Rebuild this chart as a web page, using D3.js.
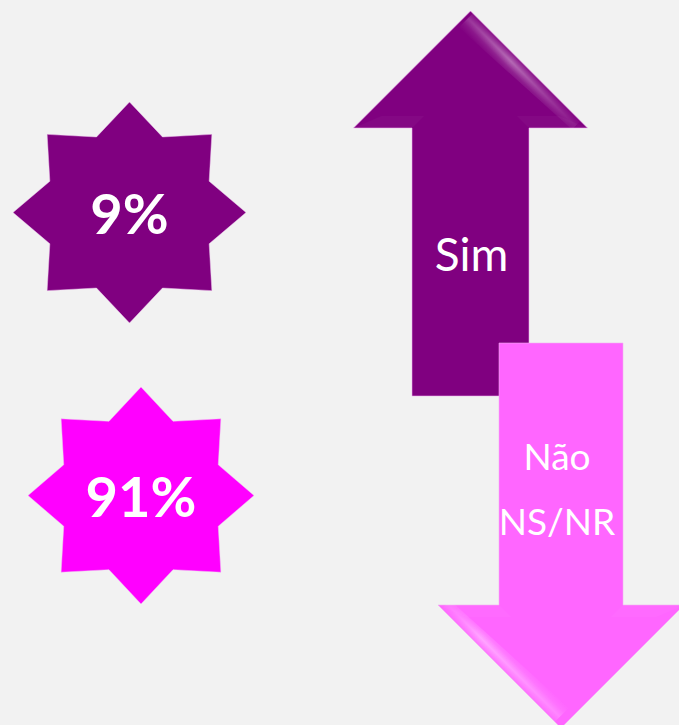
<!DOCTYPE html>
<html>

<head>
    <meta charset="UTF-8">
    <title>Sim / Não</title>
    <script src="https://d3js.org/d3.v7.min.js"></script>
    <style>
        html, body { margin: 0; padding: 0; background: #f2f2f2; }
        svg { display: block; }
    </style>
</head>

<body>
    <div id="my_dataviz"></div>
    <script>

        // values
        var categories = ["Sim", "Não NS/NR"];
        var shares = [9, 91];
        var shareLabels = ["9%", "91%"];
        var arrowLabels = [["Sim"], ["Não", "NS/NR"]];
        var starColors = ["#800080", "#ff00ff"];
        var arrowColors = ["#800080", "#ff66ff"];

        var width = 679, height = 725;

        var svg = d3.select("#my_dataviz")
            .append("svg")
            .attr("width", width)
            .attr("height", height);

        svg.append("rect")
            .attr("width", width)
            .attr("height", height)
            .attr("fill", "#f2f2f2");

        // positions of the two stars and two arrows
        var starX = d3.scalePoint().domain(categories).range([129.5, 141]);
        var starY = d3.scalePoint().domain(categories).range([212.5, 495.5]);
        var starRx = d3.scalePoint().domain(categories).range([116.5, 113]);
        var starRy = d3.scalePoint().domain(categories).range([110.5, 108.5]);
        var arrowX = d3.scalePoint().domain(categories).range([470.5, 561]);

        var defs = svg.append("defs");

        // 8 point star
        function starPoints(rx, ry) {
            return d3.range(16).map(function (i) {
                var a = i * Math.PI / 8;
                var r = (i % 2 === 0) ? 1 : 0.74;
                return [Math.sin(a) * rx * r, -Math.cos(a) * ry * r];
            });
        }
        var line = d3.line().curve(d3.curveLinearClosed);

        var stars = svg.selectAll(".star")
            .data(categories)
            .enter()
            .append("g")
            .attr("class", "star")
            .attr("transform", function (d) { return "translate(" + starX(d) + "," + starY(d) + ")"; });

        stars.append("path")
            .attr("d", function (d) { return line(starPoints(starRx(d), starRy(d))); })
            .attr("fill", function (d, i) { return starColors[i]; })
            .attr("stroke", "#f0c8f0")
            .attr("stroke-width", 0.8)
            .attr("stroke-opacity", 0.6);

        stars.append("text")
            .attr("text-anchor", "middle")
            .attr("y", 21)
            .attr("fill", "#ffffff")
            .style("font-family", "Lato, 'Open Sans', sans-serif")
            .style("font-weight", "bold")
            .style("font-size", "56px")
            .text(function (d, i) { return shareLabels[i]; });

        // arrows: up for Sim, down for Não NS/NR
        var arrowGeom = [
            { tip: 11, headBase: 128, tail: 396, shaft: 58.5, head: 117, side: 1, from: 0.02, to: 0.94, peak: 0.4 },
            { tip: 728, headBase: 605, tail: 343, shaft: 62, head: 123, side: -1, from: 0.05, to: 0.97, peak: 0.7 }
        ];

        function arrowPoints(cx, g) {
            return [
                [cx, g.tip],
                [cx + g.head, g.headBase],
                [cx + g.shaft, g.headBase],
                [cx + g.shaft, g.tail],
                [cx - g.shaft, g.tail],
                [cx - g.shaft, g.headBase],
                [cx - g.head, g.headBase]
            ];
        }

        categories.forEach(function (c, i) {
            var g = arrowGeom[i];
            var cx = arrowX(c);
            var grp = svg.append("g").attr("class", "arrow");

            grp.append("path")
                .attr("d", line(arrowPoints(cx, g)))
                .attr("fill", arrowColors[i])
                .attr("stroke", "#f0b0f0")
                .attr("stroke-width", 0.8)
                .attr("stroke-opacity", 0.7);

            // soft bevel shading at the head shelf
            [-1, 1].forEach(function (s) {
                grp.append("path")
                    .attr("d", line([
                        [cx + s * g.head, g.headBase],
                        [cx + s * g.shaft, g.headBase],
                        [cx + s * (g.shaft - 12), g.headBase + (g.tip < g.headBase ? -12 : 12)],
                        [cx + s * (g.head - 28), g.headBase + (g.tip < g.headBase ? -12 : 12)]
                    ]))
                    .attr("fill", "#ffffff")
                    .attr("fill-opacity", 0.03);
            });

            // glossy highlight along one slanted edge of the head
            var ex = cx + g.side * g.head, ey = g.headBase;
            var len = Math.hypot(ex - cx, ey - g.tip);
            var ux = (ex - cx) / len, uy = (ey - g.tip) / len;
            var nx = -uy, ny = ux;
            var midIn = [cx, (g.tip + g.headBase) / 2];
            var mx = (cx + ex) / 2, my = (g.tip + ey) / 2;
            if (nx * (midIn[0] - mx) + ny * (midIn[1] - my) < 0) { nx = -nx; ny = -ny; }

            var gid = "gloss" + i;
            var grad = defs.append("linearGradient")
                .attr("id", gid)
                .attr("gradientUnits", "userSpaceOnUse")
                .attr("x1", mx).attr("y1", my)
                .attr("x2", mx + nx * 20).attr("y2", my + ny * 20);
            grad.append("stop").attr("offset", 0).attr("stop-color", "#ffffff").attr("stop-opacity", 0.08);
            grad.append("stop").attr("offset", 0.35).attr("stop-color", "#ffffff").attr("stop-opacity", 0.42);
            grad.append("stop").attr("offset", 0.65).attr("stop-color", "#ffffff").attr("stop-opacity", 0.15);
            grad.append("stop").attr("offset", 1).attr("stop-color", "#ffffff").attr("stop-opacity", 0);

            // fade along the edge
            var mid = "fade" + i;
            var p0 = [cx + (ex - cx) * g.from, g.tip + (ey - g.tip) * g.from];
            var p1 = [cx + (ex - cx) * g.to, g.tip + (ey - g.tip) * g.to];
            var fade = defs.append("linearGradient")
                .attr("id", mid)
                .attr("gradientUnits", "userSpaceOnUse")
                .attr("x1", p0[0]).attr("y1", p0[1])
                .attr("x2", p1[0]).attr("y2", p1[1]);
            fade.append("stop").attr("offset", 0).attr("stop-color", "#fff").attr("stop-opacity", 0.5);
            fade.append("stop").attr("offset", g.peak).attr("stop-color", "#fff").attr("stop-opacity", 1);
            fade.append("stop").attr("offset", 1).attr("stop-color", "#fff").attr("stop-opacity", 0.2);
            var m = defs.append("mask").attr("id", "m" + i)
                .attr("maskUnits", "userSpaceOnUse")
                .attr("x", 0).attr("y", 0).attr("width", width).attr("height", height);
            m.append("rect").attr("width", width).attr("height", height).attr("fill", "url(#" + mid + ")");

            grp.append("path")
                .attr("d", line([
                    p0,
                    p1,
                    [p1[0] + nx * 12, p1[1] + ny * 12],
                    [p0[0] + nx * 20, p0[1] + ny * 20]
                ]))
                .attr("fill", "url(#" + gid + ")")
                .attr("mask", "url(#m" + i + ")");

            // labels
            var lines = arrowLabels[i];
            var fs = i === 0 ? 46 : 37;
            var base = i === 0 ? [271] : [470, 535];
            grp.selectAll("text")
                .data(lines)
                .enter()
                .append("text")
                .attr("x", i === 0 ? cx + 1 : cx - 4)
                .attr("y", function (d, k) { return base[k]; })
                .attr("text-anchor", "middle")
                .attr("fill", "#ffffff")
                .style("font-family", "Lato, 'Open Sans', sans-serif")
                .style("font-size", fs + "px")
                .text(function (d) { return d; });
        });

    </script>
</body>

</html>
